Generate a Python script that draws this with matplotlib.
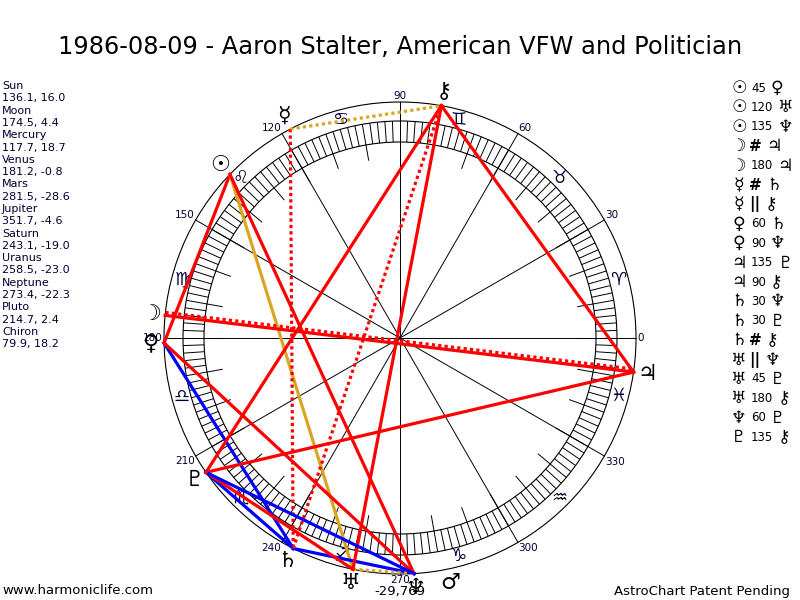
import numpy as np
import matplotlib.pyplot as plt
from matplotlib.collections import LineCollection
from matplotlib.patches import Circle

plt.rcParams['font.family'] = ['DejaVu Sans', 'Noto Sans', 'Noto Sans CJK SC']

title = '1986-08-09 - Aaron Stalter, American VFW and Politician'

# planet data: longitude, declination
planets = ['Sun', 'Moon', 'Mercury', 'Venus', 'Mars', 'Jupiter', 'Saturn',
           'Uranus', 'Neptune', 'Pluto', 'Chiron']
glyphs = ['\u2609', '\u263d', '\u263f', '\u2640', '\u2642', '\u2643', '\u2644',
          '\u2645', '\u2646', '\u2647', '\u26b7']
longitude = [136.1, 174.5, 117.7, 181.2, 281.5, 351.7, 243.1, 258.5, 273.4, 214.7, 79.9]
declination = [16.0, 4.4, 18.7, -0.8, -28.6, -4.6, -19.0, -23.0, -22.3, 2.4, 18.2]

# aspects as listed on the right
asp_from = ['Sun', 'Sun', 'Sun', 'Moon', 'Moon', 'Mercury', 'Mercury', 'Venus', 'Venus',
            'Jupiter', 'Jupiter', 'Saturn', 'Saturn', 'Saturn', 'Uranus', 'Uranus',
            'Uranus', 'Neptune', 'Pluto']
asp_kind = ['45', '120', '135', '#', '180', '#', '||', '60', '90',
            '135', '90', '30', '30', '#', '||', '45',
            '180', '60', '135']
asp_to = ['Venus', 'Uranus', 'Neptune', 'Jupiter', 'Jupiter', 'Saturn', 'Chiron', 'Saturn', 'Neptune',
          'Pluto', 'Chiron', 'Neptune', 'Pluto', 'Chiron', 'Neptune', 'Pluto',
          'Chiron', 'Pluto', 'Chiron']

signs = ['\u2648', '\u2649', '\u264a', '\u264b', '\u264c', '\u264d',
         '\u264e', '\u264f', '\u2650', '\u2651', '\u2652', '\u2653']
degree_labels = list(range(0, 360, 30))

RED, BLUE, GOLD = '#ff0000', '#0000ff', '#daa520'
NAVY = '#000033'
asp_style = {'30': (BLUE, '-'), '45': (RED, '-'), '60': (BLUE, '-'), '90': (RED, '-'),
             '120': (GOLD, '-'), '135': (RED, '-'), '180': (RED, '-'),
             '||': (GOLD, (0, (1, 1))), '#': (RED, (0, (1, 1)))}

cx, cy = 400, 338
R_OUT, R_BAND_O, R_BAND_I, R_LONG = 236, 217, 196, 180


def pt(lon, r):
    a = np.radians(lon)
    return cx + r * np.cos(a), cy - r * np.sin(a)


fig = plt.figure(figsize=(8, 6), dpi=100)
ax = fig.add_axes([0, 0, 1, 1])
ax.set_xlim(0, 800)
ax.set_ylim(600, 0)
ax.set_aspect('equal')
ax.axis('off')

# circles
for r in (R_OUT, R_BAND_O, R_BAND_I):
    ax.add_patch(Circle((cx, cy), r, fill=False, lw=0.8, ec='black'))

# spokes through the center every 30 degrees
for d in range(0, 180, 30):
    x0, y0 = pt(d, R_OUT)
    x1, y1 = pt(d + 180, R_OUT)
    ax.plot([x0, x1], [y0, y1], color='black', lw=0.7)

# band ticks
segs = []
for d in range(0, 360, 2):
    r_in = R_LONG if d % 10 == 0 else R_BAND_I
    segs.append([pt(d, r_in), pt(d, R_BAND_O)])
ax.add_collection(LineCollection(segs, colors='black', linewidths=0.7))

# zodiac glyphs
for i, s in enumerate(signs):
    x, y = pt(15 + 30 * i, 226)
    ax.text(x, y, s, ha='center', va='center', fontsize=13, color=NAVY)

# degree labels
for d in degree_labels:
    x, y = pt(d, R_OUT + 1)
    c, s = np.cos(np.radians(d)), np.sin(np.radians(d))
    ha = 'left' if c > 0.1 else ('right' if c < -0.1 else 'center')
    va = 'bottom' if s > 0.1 else ('top' if s < -0.1 else 'center')
    ax.text(x, y, str(d), ha=ha, va=va, fontsize=7.5, color=NAVY)

# aspect lines
lon = dict(zip(planets, longitude))
solid_pairs = {(a, b) for a, k, b in zip(asp_from, asp_kind, asp_to) if k not in ('#', '||')}
for a, k, b in zip(asp_from, asp_kind, asp_to):
    col, ls = asp_style[k]
    x0, y0 = pt(lon[a], R_OUT)
    x1, y1 = pt(lon[b], R_OUT)
    if k in ('#', '||') and (a, b) in solid_pairs:
        dx, dy = x1 - x0, y1 - y0
        n = np.hypot(dx, dy)
        x0, y0, x1, y1 = x0 + 3 * dy / n, y0 - 3 * dx / n, x1 + 3 * dy / n, y1 - 3 * dx / n
    ax.plot([x0, x1], [y0, y1], color=col, lw=2.3, ls=ls, dash_capstyle='butt', zorder=3)

# planet glyphs
for g, l in zip(glyphs, longitude):
    x, y = pt(l, 250)
    ax.text(x, y, g, ha='center', va='center', fontsize=16, color='black', zorder=4)

# planet list on the left
y = 86
for p, l, d in zip(planets, longitude, declination):
    ax.text(2, y, p, fontsize=8, va='center', color=NAVY)
    ax.text(2, y + 12.3, '%.1f, %.1f' % (l, d), fontsize=8, va='center', color=NAVY)
    y += 24.6

# aspect legend on the right
gl = dict(zip(planets, glyphs))
for i, (a, k, b) in enumerate(zip(asp_from, asp_kind, asp_to)):
    y = 88 + 19.4 * i
    ax.text(739, y, gl[a], ha='center', va='center', fontsize=12.5, fontweight='bold')
    if k in ('#', '||'):
        t = ax.text(749, y, k, ha='left', va='center', fontsize=11, fontweight='bold')
    else:
        t = ax.text(751, y, k, ha='left', va='center', fontsize=8.5)
    ax.annotate(gl[b], xy=(1, 0.5), xycoords=t, xytext=(3, 0), textcoords='offset points',
                ha='left', va='center', fontsize=12.5, fontweight='bold')

ax.text(400, 47, title, ha='center', va='center', fontsize=17.4)
ax.text(2, 591, 'www.harmoniclife.com', ha='left', va='center', fontsize=9.5)
ax.text(790, 591, 'AstroChart Patent Pending', ha='right', va='center', fontsize=9.5)
ax.text(400, 591, '-29,769', ha='center', va='center', fontsize=9.5)

fig.savefig('out.png', dpi=100)
